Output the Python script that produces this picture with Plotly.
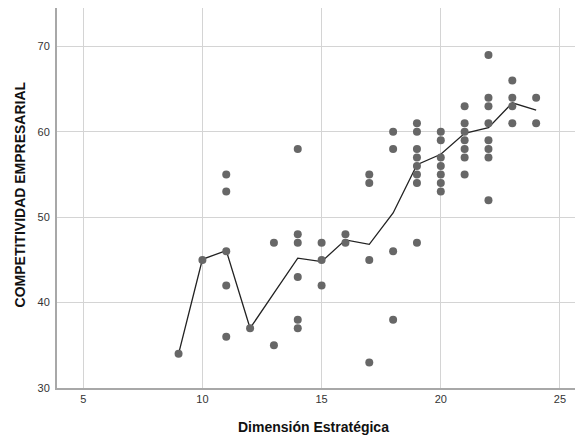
import plotly.graph_objects as go

# Scatter data (Dimensión Estratégica vs COMPETITIVIDAD EMPRESARIAL)
x_vals = [9,
          10,
          11, 11, 11, 11, 11,
          12,
          13, 13,
          14, 14, 14, 14, 14, 14,
          15, 15, 15,
          16, 16,
          17, 17, 17, 17,
          18, 18, 18, 18,
          19, 19, 19, 19, 19, 19, 19, 19,
          20, 20, 20, 20, 20, 20, 20,
          21, 21, 21, 21, 21, 21, 21,
          22, 22, 22, 22, 22, 22, 22, 22,
          23, 23, 23, 23,
          24, 24]
y_vals = [34,
          45,
          55, 53, 46, 42, 36,
          37,
          47, 35,
          58, 48, 47, 43, 38, 37,
          47, 45, 42,
          48, 47,
          55, 54, 45, 33,
          60, 58, 46, 38,
          61, 60, 58, 57, 56, 55, 54, 47,
          60, 59, 57, 56, 55, 54, 53,
          63, 61, 60, 59, 58, 57, 55,
          69, 64, 63, 61, 59, 58, 57, 52,
          66, 64, 63, 61,
          64, 61]

# Mean line
line_x = [9, 10, 11, 12, 13, 14, 15, 16, 17, 18, 19, 20, 21, 22, 23, 24]
line_y = [34, 45.07, 46.1, 37, 41.1, 45.2, 44.8, 47.35, 46.83, 50.5, 56.15, 57.37, 59.82, 60.48, 63.4, 62.55]

x_ticks = [5, 10, 15, 20, 25]
y_ticks = [30, 40, 50, 60, 70]

fig = go.Figure()
fig.add_trace(go.Scatter(
    x=line_x, y=line_y, mode="lines",
    line=dict(color="#222222", width=1.3),
    hoverinfo="skip", showlegend=False))
fig.add_trace(go.Scatter(
    x=x_vals, y=y_vals, mode="markers",
    marker=dict(color="#676767", size=8, line=dict(width=0)),
    showlegend=False))

font_family = "Liberation Sans, Arial, sans-serif"

fig.update_layout(
    width=575, height=435,
    margin=dict(l=57, r=0, t=8, b=47),
    paper_bgcolor="white", plot_bgcolor="white",
    font=dict(family=font_family, size=11, color="#333333"),
    xaxis=dict(range=[3.9, 25.63], tickvals=x_ticks, showgrid=True,
               gridcolor="#d4d4d4", gridwidth=1, zeroline=False,
               showline=True, linecolor="#a8a8a8", linewidth=2,
               ticks="", tickfont=dict(size=11, color="#333333")),
    yaxis=dict(range=[30, 74.5], tickvals=y_ticks, showgrid=True,
               gridcolor="#d4d4d4", gridwidth=1, zeroline=False,
               showline=True, linecolor="#a8a8a8", linewidth=2,
               ticks="outside", ticklen=3, tickcolor="rgba(0,0,0,0)",
               tickfont=dict(size=11, color="#333333")),
    annotations=[
        dict(text="<b>Dimensión Estratégica</b>", xref="paper", yref="paper",
             x=0.495, y=-0.103, xanchor="center", yanchor="middle",
             showarrow=False, font=dict(size=14, color="#111111", family=font_family)),
        dict(text="<b>COMPETITIVIDAD EMPRESARIAL</b>", xref="paper", yref="paper",
             x=-0.071, y=0.51, xanchor="center", yanchor="middle", textangle=-90,
             showarrow=False, font=dict(size=14, color="#111111", family=font_family)),
    ],
)

fig.write_html("out.html", config={"displayModeBar": False},
               post_script="document.body.style.margin='0';document.body.style.overflow='hidden';")
